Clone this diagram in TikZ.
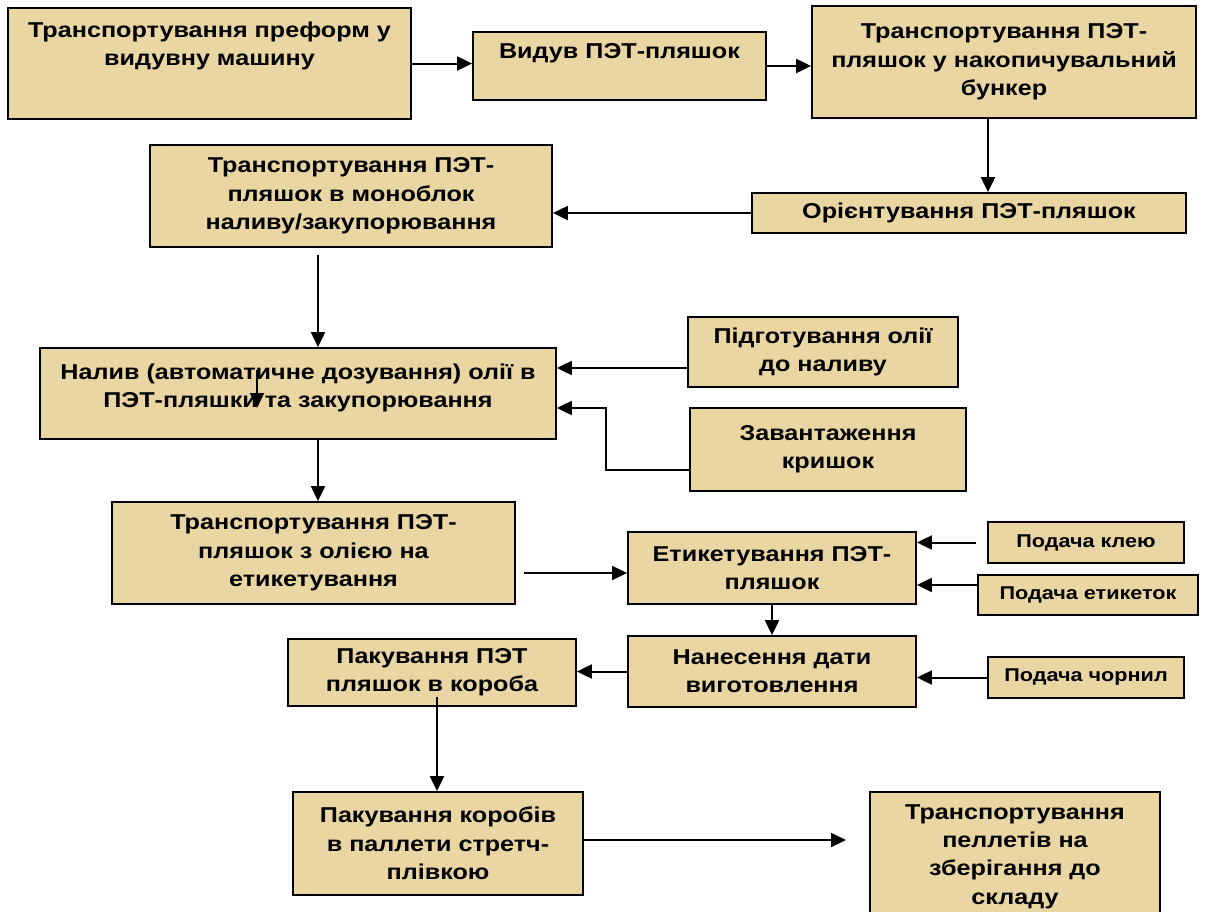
\documentclass[tikz,border=0pt]{standalone}
\usepackage{fontspec}
\setmainfont{Liberation Sans}[FakeStretch=1.17]
\usetikzlibrary{arrows.meta}
\definecolor{parch}{RGB}{233,214,163}

\begin{document}
\begin{tikzpicture}[x=1pt,y=-1pt,
	  stage/.style={draw=black,line width=1.8pt,fill=parch,align=center,inner sep=0pt,
	    font=\bfseries\fontsize{21.5}{28.3}\selectfont},
	  feed/.style={stage,font=\bfseries\fontsize{18.5}{22}\selectfont},
	  flow/.style={-{Triangle[length=15pt,width=14pt]},line width=2pt}]
	  \useasboundingbox (0,0) rectangle (1208,911);
	  \clip (0,0) rectangle (1208,911);
	  % first row
	  \node (prep) [stage,minimum width=403pt,minimum height=111pt,text depth=40pt] at (209.5,63.5) {Транспортування преформ у\\видувну машину};
	  \node (blow) [stage,minimum width=293pt,minimum height=68pt,text depth=31pt] at (619.5,66) {Видув ПЭТ-пляшок};
	  \node (bunker) [stage,minimum width=384pt,minimum height=112pt] at (1004,62) {Транспортування ПЭТ-\\пляшок у накопичувальний\\бункер};
	  \node (mono) [stage,minimum width=402pt,minimum height=102pt] at (351,196) {Транспортування ПЭТ-\\пляшок в моноблок\\наливу/закупорювання};
	  \node (orient) [stage,minimum width=434pt,minimum height=40pt] at (969,213) {Орієнтування ПЭТ-пляшок};
	  % filling
	  \node (fill) [stage,minimum width=516pt,minimum height=91pt,text depth=16pt] at (298,393.5) {Налив (автоматичне дозування) олії в\\ПЭТ-пляшки та закупорювання};
	  \node (oil) [stage,minimum width=270pt,minimum height=70pt] at (823,352) {Підготування олії\\до наливу};
	  \node (caps) [stage,minimum width=276pt,minimum height=83pt] at (828,449.5) {Завантаження\\кришок};
	  % labelling
	  \node (tolabel) [stage,minimum width=403pt,minimum height=102pt] at (313.5,553) {Транспортування ПЭТ-\\пляшок з олією на\\етикетування};
	  \node (label) [stage,minimum width=288pt,minimum height=72pt] at (772,568) {Етикетування ПЭТ-\\пляшок};
	  \node (glue) [feed,minimum width=196pt,minimum height=41pt] at (1086,542.5) {Подача клею};
	  \node (tags) [feed,minimum width=220pt,minimum height=40pt] at (1088,595) {Подача етикеток};
	  \node (date) [stage,minimum width=288pt,minimum height=71pt] at (772,671.5) {Нанесення дати\\виготовлення};
	  \node (ink) [feed,minimum width=196pt,minimum height=41pt] at (1086,677.5) {Подача чорнил};
	  % packing
	  \node (boxes) [stage,minimum width=288pt,minimum height=67pt] at (432,672.5) {Пакування ПЭТ\\пляшок в короба};
	  \node (pallet) [stage,minimum width=290pt,minimum height=103pt] at (438,843.5) {Пакування коробів\\в паллети стретч-\\плівкою};
	  \node (store) [stage,minimum width=290pt,minimum height=129pt] at (1015,856.5) {Транспортування\\пеллетів на\\зберігання до\\складу};
	  \coordinate (monoOut) at (318,255);
	  \coordinate (capsTurn) at (606,470);
	  \coordinate (tolabelOut) at (524,573);
	  \coordinate (boxesOut) at (437,697);
	  \coordinate (storeIn) at (846,840);
	  \coordinate (fillTop) at (257,370);
	  \coordinate (fillMid) at (257,408);
	  \draw[flow] (prep.east) -- (prep.east -| blow.west);
	  \draw[flow] (blow.east) -- (blow.east -| bunker.west);
	  \draw[flow] ([xshift=-16pt]bunker.south) -- ([xshift=-16pt]bunker.south |- orient.north);
	  \draw[flow] (orient.west) -- (orient.west -| mono.east);
	  \draw[flow] (monoOut) -- (monoOut |- fill.north);
	  \draw[flow] ([yshift=-16pt]oil.west) -- ([yshift=-16pt]oil.west -| fill.east);
	  \draw[flow] (caps.west |- capsTurn) -- (capsTurn) |- ([yshift=-14.5pt]fill.east);
	  \draw[flow] (fillTop) -- (fillMid);
	  \draw[flow] (fill.south -| monoOut) -- (monoOut |- tolabel.north);
	  \draw[flow] (tolabelOut) -- (tolabelOut -| label.west);
	  \draw[flow] ([xshift=-11pt]glue.west) -- (glue.west -| label.east);
	  \draw[flow] ([yshift=10pt]tags.west) -- ([yshift=10pt]tags.west -| label.east);
	  \draw[flow] (label.south) -- (date.north);
	  \draw[flow] (ink.west) -- (ink.west -| date.east);
	  \draw[flow] (date.west) -- (date.west -| boxes.east);
	  \draw[flow] (boxesOut) -- (boxesOut |- pallet.north);
	  \draw[flow] (pallet.east |- storeIn) -- (storeIn);
\end{tikzpicture}
\end{document}
